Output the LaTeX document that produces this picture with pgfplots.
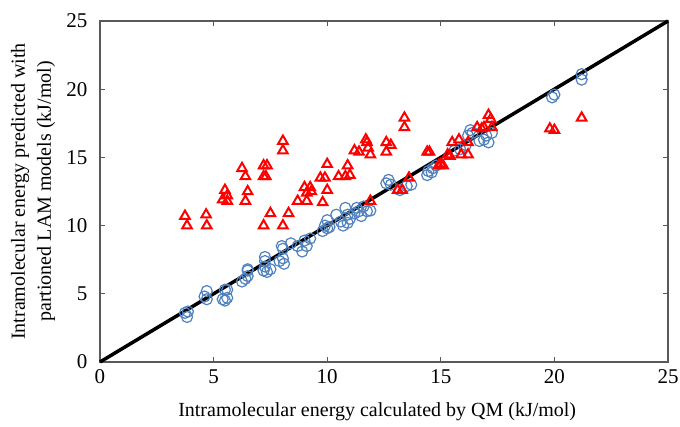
\documentclass[border=0pt]{standalone}
\usepackage{fontspec}
\setmainfont{Liberation Serif}
\usepackage{pgfplots}
\pgfplotsset{compat=1.18}
\definecolor{excelblue}{RGB}{79,129,189}
\definecolor{axisgray}{RGB}{89,89,89}
\begin{document}
\begin{tikzpicture}
\begin{axis}[
    name=main,
    scale only axis,
    width=568pt, height=341pt,
    xmin=0, xmax=25, ymin=0, ymax=25,
    xtick={0,5,...,25}, ytick={0,5,...,25},
    tick align=inside,
    major tick length=5pt,
    tick style={axisgray, line width=1pt},
    axis line style={axisgray, line width=1.2pt},
    ticklabel style={font=\fontsize{21}{24}\selectfont},
    xticklabel style={yshift=-4pt},
    yticklabel style={xshift=-9pt},
    label style={font=\fontsize{20}{25}\selectfont},
    /pgf/number format/assume math mode=true,
    xlabel={Intramolecular energy calculated by QM (kJ/mol)},
    ylabel={\begin{tabular}{c}Intramolecular energy predicted with\\[1pt]partioned LAM models (kJ/mol)\end{tabular}},
    xlabel style={at={(axis description cs:0.488,-0.147)}, anchor=center},
    ylabel style={at={(axis description cs:-0.118,0.5)}, anchor=center},
    clip=false,
]
% 1:1 line
\addplot[black, line width=3.5pt, no marks] coordinates {(0,0) (25,25)};
% blue circles
\addplot[only marks, mark=o, mark size=5.5pt, mark options={excelblue, line width=1.2pt}] coordinates {
(3.74,3.6) (3.83,3.3) (3.87,3.7) (4.7,5.2) (4.7,4.6) (4.6,4.8)
(5.5,5.3) (5.6,5.3) (5.4,4.6) (5.6,4.7) (5.5,4.5)
(6.5,6.8) (6.4,6.1) (6.25,5.9) (6.5,6.7) (6.5,6.3)
(7.26,7.7) (7.26,7.4) (7.2,6.7) (7.35,6.6) (7.5,6.8) (7.26,7.0)
(7.9,7.4) (8.05,7.6) (8.1,7.2) (8.05,8.3) (8.4,8.7) (8.0,8.5)
(8.7,8.5) (8.9,8.1) (9.1,8.5) (9.25,9.05) (9.0,8.9)
(9.8,9.6) (9.9,10.0) (10.0,10.4) (10.1,9.9) (10.0,9.8)
(10.4,10.8) (10.6,10.3) (10.8,11.3) (10.9,10.8) (11.0,10.5) (10.9,10.2) (10.7,10.0)
(11.2,10.9) (11.3,11.3) (11.4,11.05) (11.6,11.4) (11.75,11.05) (11.9,11.1) (11.5,10.7)
(12.7,13.35) (12.6,13.1) (12.8,13.0) (13.2,12.6) (13.5,12.9) (13.7,13.0)
(14.4,13.7) (14.45,14.0) (14.6,13.9) (14.65,14.2) (14.8,14.4)
(15.6,15.5) (15.85,15.6) (16.1,15.9) (16.3,17.0) (16.2,16.6) (16.4,16.8)
(16.7,16.2) (16.9,16.3) (17.1,16.1) (17.25,16.8) (17.0,16.6)
(19.9,19.4) (20.0,19.6) (21.2,21.1) (21.2,20.7)
};
% red triangles
\addplot[only marks, mark=triangle, mark size=5.5pt, mark options={red, line width=2pt}] coordinates {
(3.74,10.7) (3.83,10.0) (4.67,10.8) (4.7,10.0)
(5.5,12.6) (5.6,12.2) (5.4,11.9) (5.6,11.8)
(6.25,14.2) (6.4,13.6) (6.5,12.5) (6.4,11.8)
(7.2,14.4) (7.35,14.4) (7.2,13.6) (7.3,13.6) (7.5,10.9) (7.2,10.0)
(8.05,16.2) (8.05,15.5) (8.3,10.9) (8.05,10.0)
(8.7,11.8) (9.1,11.8) (9.0,12.8) (9.25,12.8) (9.3,12.5) (9.1,12.4)
(9.8,11.7) (9.7,13.5) (9.9,13.5) (10.0,12.6) (10.0,14.5)
(10.5,13.6) (10.8,13.6) (10.9,14.4) (11.0,13.7)
(11.2,15.5) (11.4,15.4) (11.7,16.3) (11.75,16.1) (11.9,15.2) (11.8,15.7) (11.9,11.8)
(12.6,16.1) (12.6,15.4) (12.8,15.9) (13.1,12.6) (13.3,12.6)
(13.4,17.9) (13.4,17.2) (13.6,13.5)
(14.4,15.4) (14.5,15.4) (15.0,14.5) (15.1,14.4) (14.9,14.4)
(15.3,15.2) (15.4,15.1) (15.5,16.1) (15.8,16.3) (15.9,15.2) (16.2,16.1) (16.2,15.2)
(16.6,17.2) (16.8,17.1) (16.9,17.2) (17.1,18.1) (17.2,17.8) (17.25,17.2)
(19.8,17.1) (20.0,17.0) (21.2,17.9)
};
\end{axis}
\pgfresetboundingbox
\path[use as bounding box] ([xshift=-100pt,yshift=-65pt]main.south west) rectangle ([xshift=12pt,yshift=21pt]main.north east);
\end{tikzpicture}
\end{document}
